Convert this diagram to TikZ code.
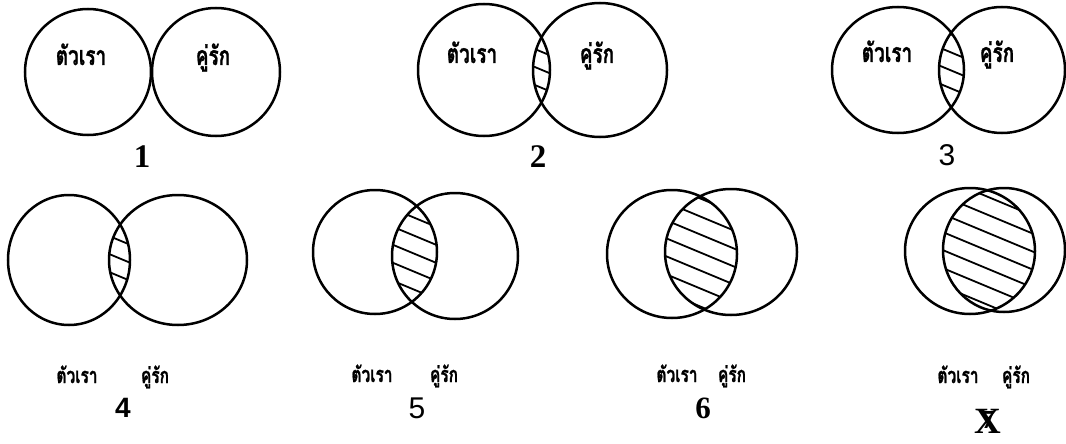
\documentclass[tikz,border=0pt]{standalone}
\usepackage{graphicx}
\usepackage{fontspec}
\newfontfamily\thaifont[Script=Thai,FakeBold=1.2]{Loma}
\newfontfamily\serifnum{Liberation Serif}
\newfontfamily\sansnum{Liberation Sans}
\newcommand\tallthai[1]{\scalebox{1}[1.4]{#1}}
\tikzset{
  ring/.style={line width=2.5pt},
  hatchline/.style={line width=1.8pt},
  bigthai/.style={font=\thaifont\bfseries\fontsize{19}{19}\selectfont, anchor=base, inner sep=0pt},
  smallthai/.style={font=\thaifont\bfseries\fontsize{15.5}{15.5}\selectfont, anchor=base, inner sep=0pt},
  sernum/.style={font=\serifnum\bfseries\fontsize{33}{33}\selectfont, anchor=base, inner sep=0pt},
  sansnumA/.style={font=\sansnum\fontsize{30}{30}\selectfont, anchor=base, inner sep=0pt},
}
\newcommand\vennpair[9]{%
  \ifnum#9=1
  \begin{scope}
    \clip (#1,#2) ellipse [x radius=#3pt, y radius=#4pt];
    \clip (#5,#6) ellipse [x radius=#7pt, y radius=#8pt];
    \foreach \k in {-10,...,10}
      \draw[hatchline] ({(#1+#5)/2-120},{(#2+#6)/2+\k*18-50}) -- ++(240,100);
  \end{scope}
  \fi
  \draw[ring] (#1,#2) ellipse [x radius=#3pt, y radius=#4pt];
  \draw[ring] (#5,#6) ellipse [x radius=#7pt, y radius=#8pt];
}
\begin{document}
\begin{tikzpicture}[x=1pt,y=-1pt]
\fill[white] (0,0) rectangle (1066,444);
\useasboundingbox (0,0) rectangle (1066,444);
% panel 1
\vennpair{88}{72}{63}{63}{216}{72}{64}{64}{0}
\node[bigthai] (w1) at (81,65) {\tallthai{ตัวเรา}};
\node[bigthai] (l1) at (213,65) {\tallthai{คู่รัก}};
\node[sernum] (n1) at (142,167) {1};
% panel 2
\vennpair{484}{70}{66}{66}{600}{70}{67}{67}{1}
\node[bigthai] (w2) at (472,63) {\tallthai{ตัวเรา}};
\node[bigthai] (l2) at (597,63) {\tallthai{คู่รัก}};
\node[sernum] (n2) at (538,167) {2};
% panel 3
\vennpair{898}{70}{66}{63}{1002}{70}{63}{63}{1}
\node[bigthai] (w3) at (887,62) {\tallthai{ตัวเรา}};
\node[bigthai] (l3) at (997,62) {\tallthai{คู่รัก}};
\node[sansnumA] (n3) at (947,165) {3};
% panel 4
\vennpair{69}{260}{61}{65}{178}{260}{69}{65}{1}
\node[smallthai] (w4) at (77,383) {\tallthai{ตัวเรา}};
\node[smallthai] (l4) at (155,383) {\tallthai{คู่รัก}};
\node[sansnumA,font=\sansnum\bfseries\fontsize{28}{28}\selectfont] (n4) at (123,417) {4};
% panel 5
\vennpair{375}{252}{62}{62}{455}{256}{63}{63}{1}
\node[smallthai] (w5) at (372,382) {\tallthai{ตัวเรา}};
\node[smallthai] (l5) at (444,382) {\tallthai{คู่รัก}};
\node[sansnumA] (n5) at (417,418) {5};
% panel 6
\vennpair{672}{254}{65}{64}{731}{252}{66}{63}{1}
\node[smallthai] (w6) at (677,382) {\tallthai{ตัวเรา}};
\node[smallthai] (l6) at (732,382) {\tallthai{คู่รัก}};
\node[sernum,font=\serifnum\bfseries\fontsize{31}{31}\selectfont] (n6) at (703,418) {6};
% panel 7
\vennpair{970}{251}{65}{63}{1004}{250}{61}{62}{1}
\node[smallthai] (w7) at (958,383) {\tallthai{ตัวเรา}};
\node[smallthai] (l7) at (1016,383) {\tallthai{คู่รัก}};
\node[sernum,font=\serifnum\bfseries\fontsize{26}{26}\selectfont] (n7) at (988,428) {7};
\node[sernum,font=\serifnum\bfseries\fontsize{37}{37}\selectfont] (x7) at (988,433) {X};
\end{tikzpicture}
\end{document}
